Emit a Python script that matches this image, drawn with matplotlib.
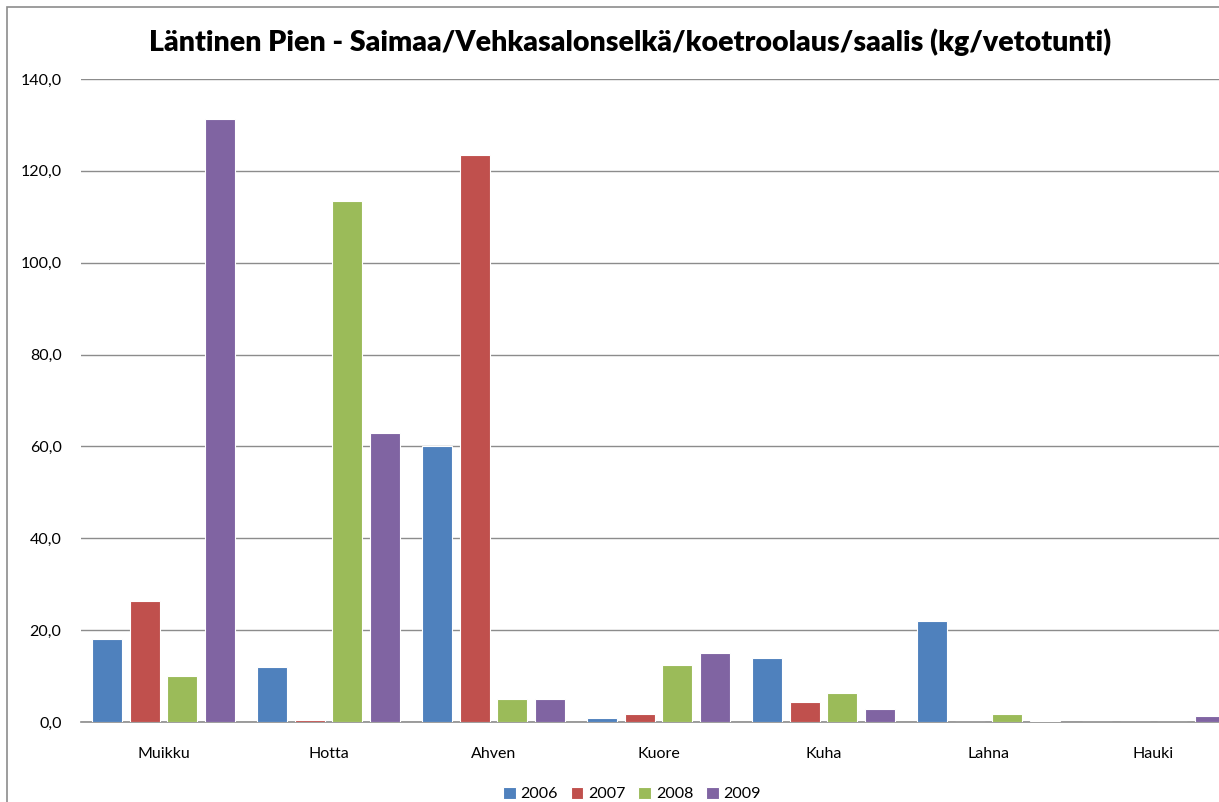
import numpy as np
import matplotlib
matplotlib.use('Agg')
import matplotlib.pyplot as plt
from matplotlib.patches import Rectangle

lajit = ['Muikku', 'Hotta', 'Ahven', 'Kuore', 'Kuha', 'Lahna', 'Hauki']
vuodet = ['2006', '2007', '2008', '2009']
v2006 = [18.0, 12.0, 60.0, 0.9, 14.0, 22.0, 0.0]
v2007 = [26.4, 0.4, 123.4, 1.7, 4.3, 0.1, 0.0]
v2008 = [10.0, 113.4, 4.9, 12.5, 6.4, 1.7, 0.0]
v2009 = [131.3, 63.0, 5.0, 15.0, 2.8, 0.3, 1.4]
varit = ['#4F81BD', '#C0504D', '#9BBB59', '#8064A2']

plt.rcParams['font.family'] = ['Lato', 'DejaVu Sans']

fig = plt.figure(figsize=(12.19, 8.02), dpi=100)
fig.patches.append(Rectangle((7 / 1219, -0.1), 1.2, 1 - 7 / 802 + 0.1, transform=fig.transFigure,
                             fill=False, edgecolor='#8C8C8C', linewidth=1.2))

ax = fig.add_axes([81 / 1219, 80 / 802, 1155 / 1219, 643 / 802])
x = np.arange(len(lajit))
askel = 0.227
leveys = 0.182
for i, (arvot, vari) in enumerate(zip([v2006, v2007, v2008, v2009], varit)):
    ax.bar(x + (i - 1.5) * askel, arvot, width=leveys, color=vari,
           edgecolor='white', linewidth=0.8, label=vuodet[i], zorder=3)

ax.set_xlim(-0.5, 6.5)
ax.set_ylim(0, 140)
ax.set_yticks(np.arange(0, 141, 20))
ax.set_yticklabels([f'{v:.1f}'.replace('.', ',') for v in np.arange(0, 141, 20)], fontsize=11.5)
ax.set_xticks(x)
ax.set_xticklabels(lajit, fontsize=11.5)
ax.tick_params(length=0)
ax.tick_params(axis='y', pad=14)
ax.tick_params(axis='x', pad=18)
ax.grid(axis='y', color='#8C8C8C', linewidth=1, zorder=0)
for s in ['left', 'right', 'top']:
    ax.spines[s].set_visible(False)
ax.spines['bottom'].set_color('#8C8C8C')
ax.spines['bottom'].set_linewidth(1.2)

fig.text(630 / 1219, 1 - 42 / 802, 'Läntinen Pien - Saimaa/Vehkasalonselkä/koetroolaus/saalis (kg/vetotunti)',
         ha='center', va='center', fontsize=20.5, fontweight='heavy')

fig.legend(loc='center', bbox_to_anchor=(632 / 1219, 1 - 794 / 802), ncol=4, frameon=False,
           fontsize=11.5, handlelength=0.8, handleheight=0.8, handletextpad=0.3, columnspacing=0.8)

fig.savefig('out.png', dpi=100)
